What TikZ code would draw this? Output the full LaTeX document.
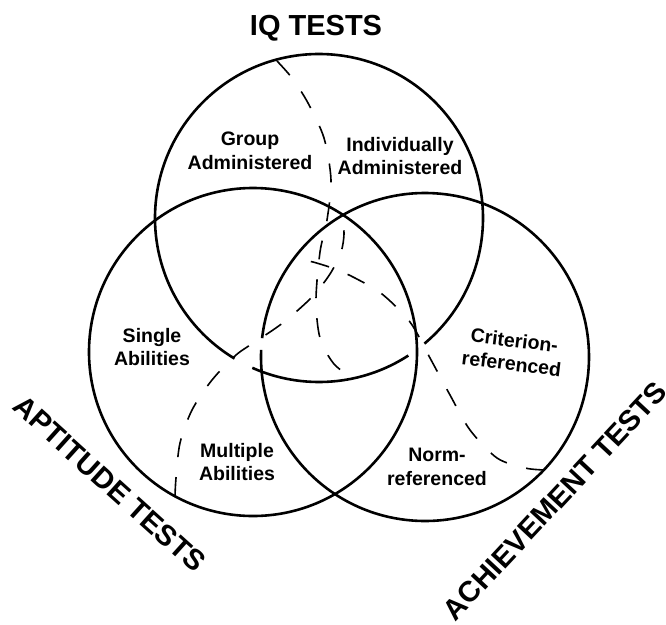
\documentclass[tikz,border=0pt]{standalone}
\usepackage{fontspec}
\setmainfont{Liberation Sans}
\begin{document}
\begin{tikzpicture}
        [
            x = 1pt, y = -1pt,
            ring/.style={line width=2.6pt},
            divider/.style={line width=1.6pt, dash pattern=on 19pt off 20pt},
            region/.style={font=\bfseries\fontsize{19.5}{23.5}\selectfont, align=center, inner sep=0pt},
            title/.style={font=\bfseries\fontsize{29}{32}\selectfont, inner sep=0pt},
        ]
        \useasboundingbox (0,0) rectangle (666,624);
        \coordinate (iq) at (319,218);
        \coordinate (apt) at (253,352);
        \coordinate (ach) at (425,357);

        % the three circles, with the breaks of the hand drawing
        \draw[ring] (iq) ++(310:164pt) arc[start angle=310, end angle=599, radius=164pt];
        \draw[ring] (iq) ++(246:164pt) arc[start angle=246, end angle=303, radius=164pt];
        \draw[ring] (apt) circle[radius=164pt];
        \draw[ring] (ach) ++(177.5:164pt) arc[start angle=177.5, end angle=533.4, radius=164pt];

        % dashed lines splitting each circle in two
        \draw[divider] plot[smooth] coordinates {(277,61) (292,78) (308,103) (324,138) (331,180)
            (327,220) (320,252) (316,300) (320,338) (334,364) (354,379)};
        \draw[divider] plot[smooth] coordinates {(175,496) (176,478) (180,443) (192,410) (212,380)
            (236,355) (258,340) (284,322) (312,297) (330,274) (341,252) (344,234) (342,219)};
        \draw[divider] plot[smooth] coordinates {(545,470) (525,468) (497,458) (470,430) (450,395)
            (430,358) (410,322) (382,294) (355,278) (335,269) (313,262) (297,259)};

        % titles
        \node[title] (iqtitle) at (316,28) {IQ TESTS};
        \node[title, rotate=-42] (apttitle) at (110,484) {APTITUDE TESTS};
        \node[title, rotate=47] (achtitle) at (555,501) {ACHIEVEMENT TESTS};

        % regions
        \node[region] (group) at (250,151) {Group\\Administered};
        \node[region] (indiv) at (400,156) {Individually\\Administered};
        \node[region] (single) at (152,347) {Single\\Abilities};
        \node[region] (multiple) at (237,462) {Multiple\\Abilities};
        \node[region, rotate=-7] (criterion) at (513,352) {Criterion-\\referenced};
        \node[region] (norm) at (437,467) {Norm-\\referenced};
\end{tikzpicture}
\end{document}
